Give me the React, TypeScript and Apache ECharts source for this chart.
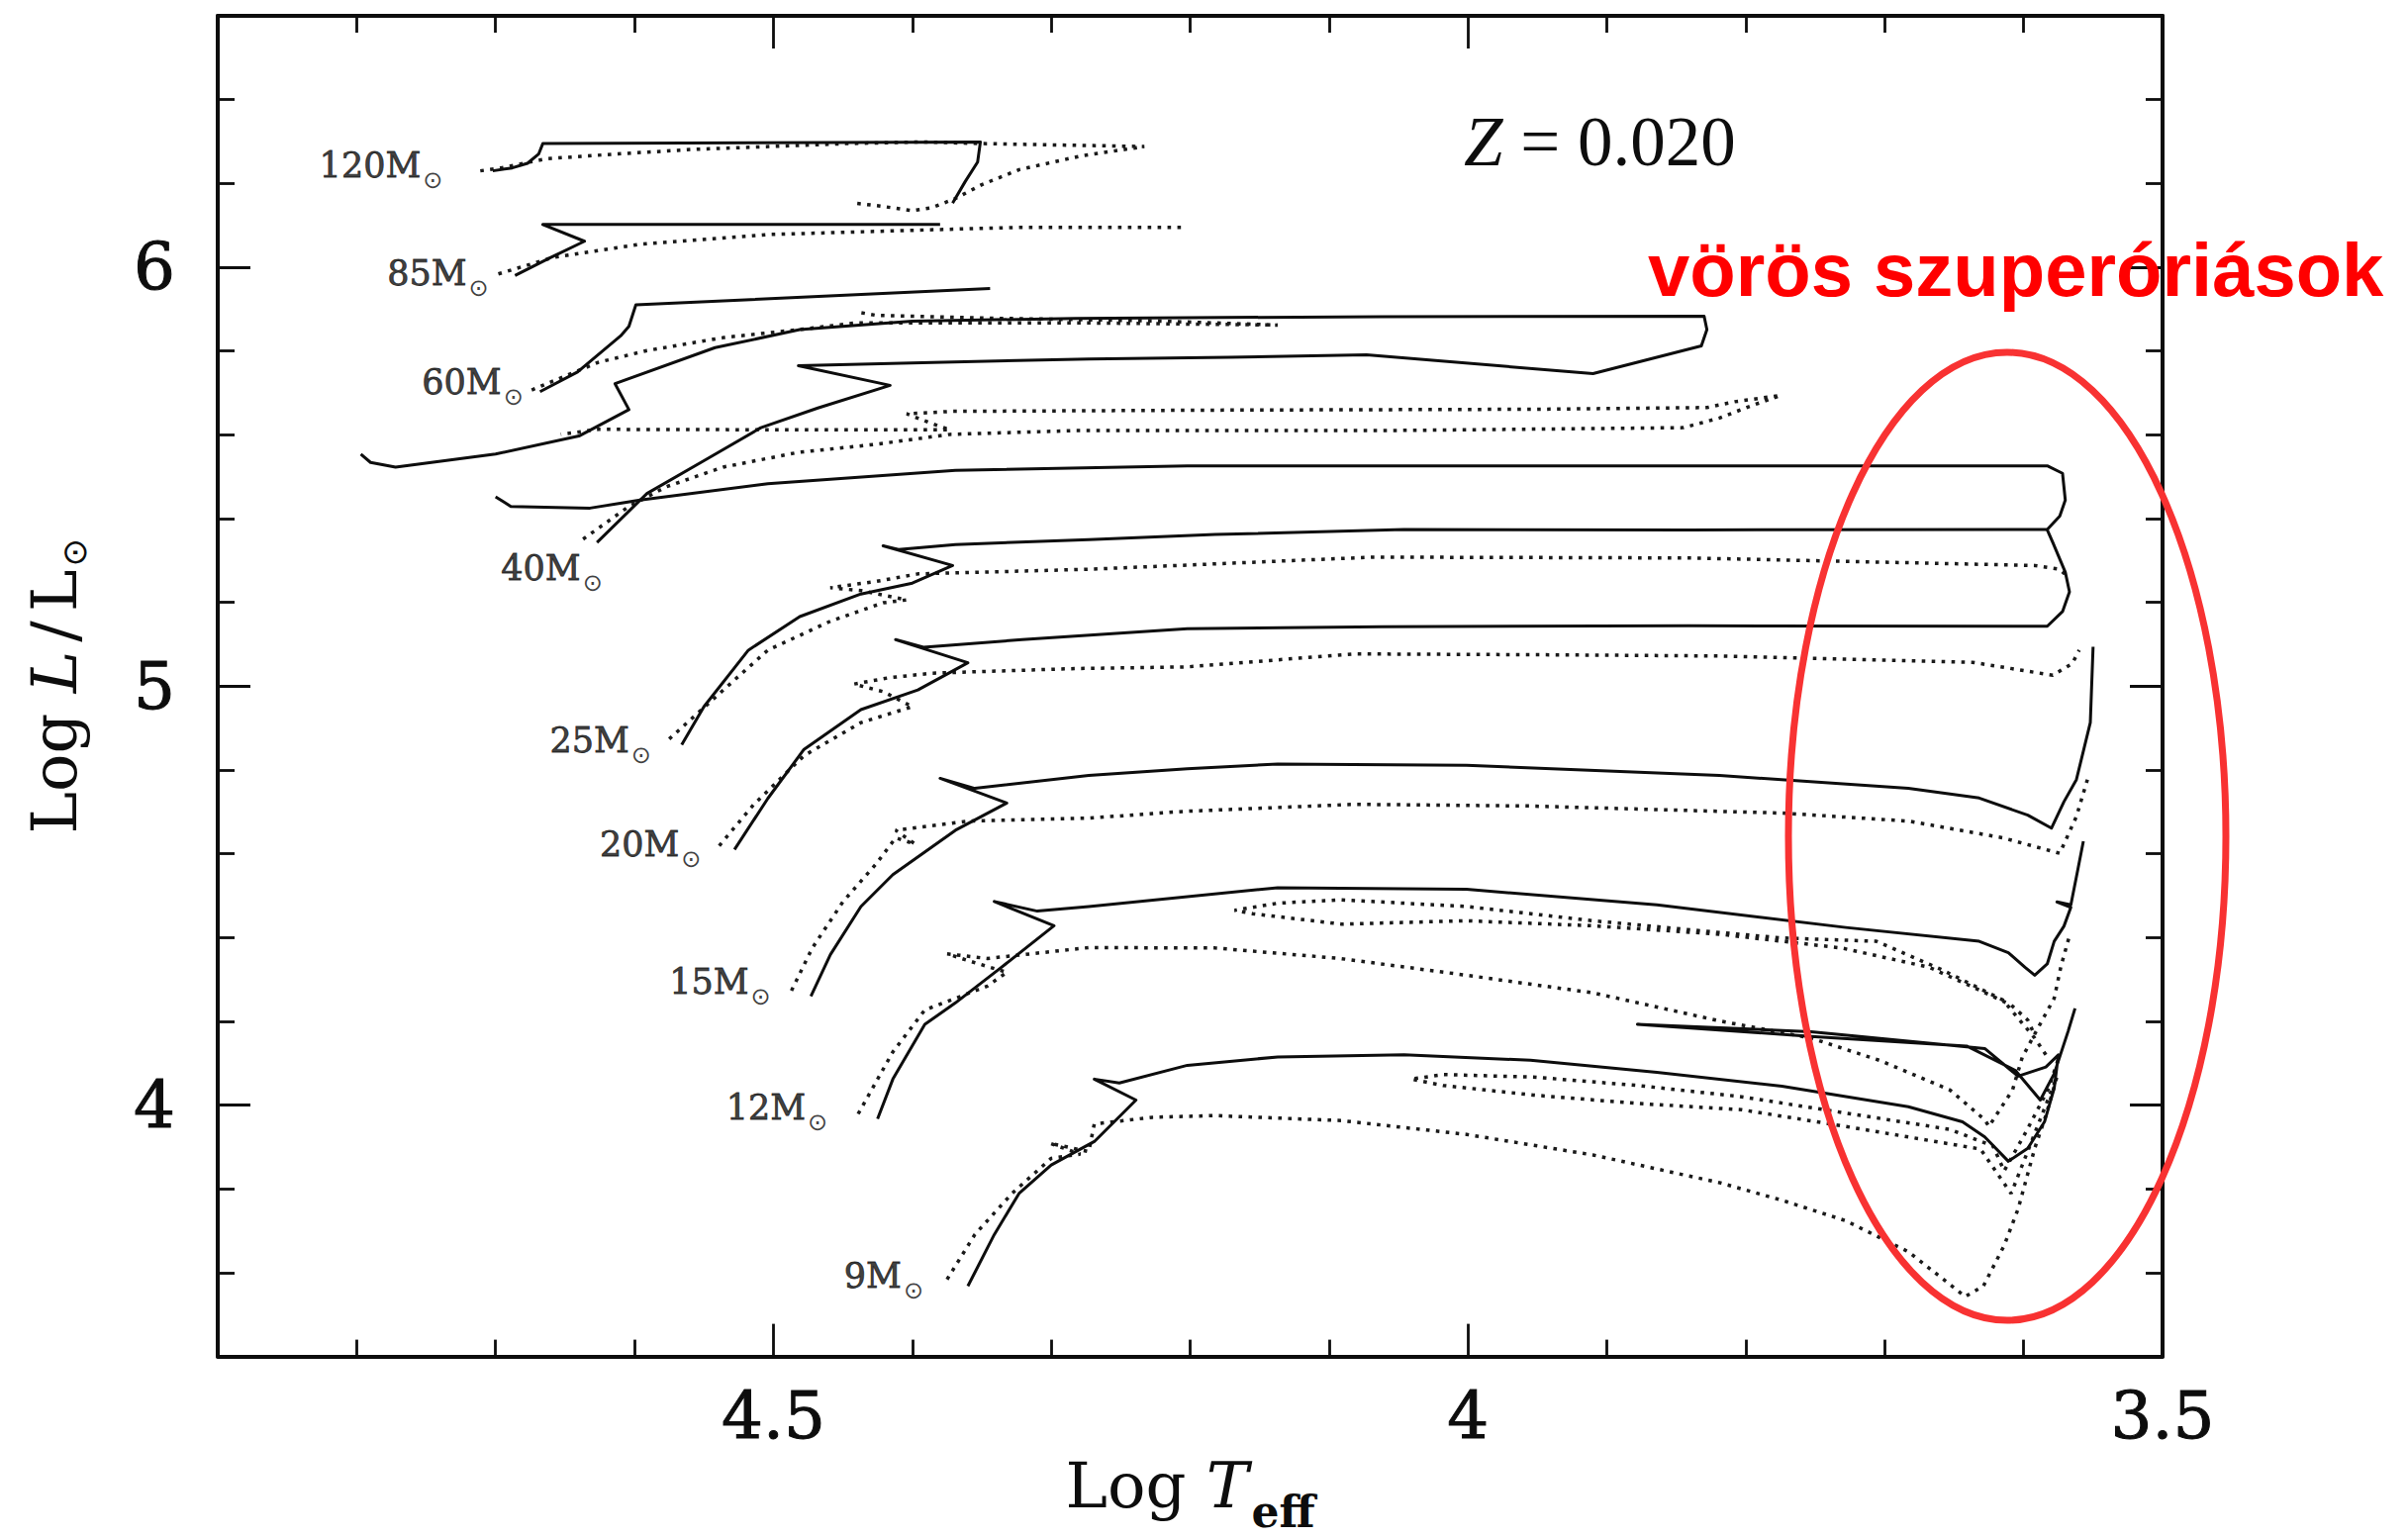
import React, { useEffect, useRef } from "react";
import * as echarts from "echarts";

type Pt = [number, number];

// Axis ticks and labels (log Teff on x, log L/Lsun on y)
const xMinorTicks = [3.6, 3.7, 3.8, 3.9, 4.1, 4.2, 4.3, 4.4, 4.6, 4.7, 4.8];
const xMajorTicks = [4.0, 4.5];
const xTickLabels = [3.5, 4.0, 4.5];
const yMinorTicks = [3.6, 3.8, 4.2, 4.4, 4.6, 4.8, 5.2, 5.4, 5.6, 5.8, 6.2, 6.4];
const yMajorTicks = [4, 5, 6];
const yTickLabels = [4, 5, 6];

// Evolutionary tracks, [log Teff, log L/Lsun]
const m120Solid: Pt[] = [[4.702, 6.23], [4.688, 6.237], [4.677, 6.248], [4.669, 6.27], [4.666, 6.295], [4.351, 6.299], [4.353, 6.251], [4.362, 6.204], [4.371, 6.153]];
const m120Dotted: Pt[] = [[4.711, 6.23], [4.696, 6.237], [4.68, 6.248], [4.663, 6.259], [4.614, 6.27], [4.559, 6.281], [4.503, 6.288], [4.448, 6.295], [4.393, 6.299], [4.349, 6.295], [4.283, 6.291], [4.233, 6.288], [4.278, 6.266], [4.323, 6.233], [4.35, 6.197], [4.369, 6.164], [4.386, 6.142], [4.4, 6.135], [4.423, 6.146], [4.442, 6.153]];

const m85Solid: Pt[] = [[4.686, 5.98], [4.661, 6.022], [4.636, 6.062], [4.666, 6.102], [4.38, 6.102]];
const m85Dotted: Pt[] = [[4.698, 5.984], [4.659, 6.023], [4.596, 6.055], [4.504, 6.078], [4.38, 6.09], [4.323, 6.095], [4.205, 6.095]];

const m60Solid: Pt[] = [[4.668, 5.703], [4.641, 5.75], [4.61, 5.836], [4.604, 5.859], [4.599, 5.91], [4.344, 5.949]];
const m60Dotted: Pt[] = [[4.674, 5.707], [4.626, 5.773], [4.591, 5.801], [4.536, 5.832], [4.482, 5.851], [4.441, 5.867], [4.4, 5.867], [4.273, 5.867], [4.137, 5.862], [4.227, 5.872], [4.338, 5.878], [4.426, 5.885], [4.441, 5.894]];

const m40Solid: Pt[] = [[4.627, 5.343], [4.591, 5.46], [4.55, 5.538], [4.509, 5.617], [4.468, 5.664], [4.416, 5.718], [4.482, 5.765], [4.393, 5.772], [4.273, 5.781], [4.172, 5.785], [4.073, 5.791], [3.91, 5.746], [3.832, 5.812], [3.828, 5.851], [3.83, 5.883], [4.062, 5.882], [4.283, 5.878], [4.4, 5.871], [4.481, 5.851], [4.542, 5.808], [4.614, 5.722], [4.604, 5.66], [4.64, 5.597], [4.7, 5.554], [4.772, 5.523], [4.79, 5.534], [4.797, 5.554]];
const m40Dotted: Pt[] = [[4.637, 5.351], [4.604, 5.429], [4.577, 5.476], [4.536, 5.523], [4.482, 5.558], [4.427, 5.577], [4.373, 5.601], [4.283, 5.61], [4.062, 5.61], [3.845, 5.617], [3.819, 5.64], [3.797, 5.668], [3.775, 5.694], [3.808, 5.679], [3.828, 5.665], [3.951, 5.661], [4.172, 5.659], [4.371, 5.656], [4.404, 5.65], [4.387, 5.628], [4.373, 5.612], [4.503, 5.612], [4.626, 5.613], [4.653, 5.601]];

const m25Solid: Pt[] = [[4.566, 4.86], [4.55, 4.951], [4.518, 5.086], [4.481, 5.166], [4.437, 5.22], [4.4, 5.246], [4.371, 5.288], [4.421, 5.335], [4.41, 5.326], [4.369, 5.338], [4.273, 5.35], [4.182, 5.362], [4.046, 5.374], [3.841, 5.373], [3.583, 5.374], [3.574, 5.406], [3.57, 5.444], [3.572, 5.508], [3.583, 5.526], [3.841, 5.526], [4.202, 5.526], [4.369, 5.515], [4.504, 5.483], [4.596, 5.444], [4.632, 5.425], [4.689, 5.429], [4.7, 5.452]];
const m25Dotted: Pt[] = [[4.575, 4.874], [4.536, 4.991], [4.504, 5.086], [4.459, 5.155], [4.421, 5.199], [4.404, 5.206], [4.437, 5.228], [4.459, 5.235], [4.426, 5.25], [4.396, 5.268], [4.273, 5.279], [4.068, 5.308], [3.841, 5.306], [3.592, 5.288], [3.574, 5.279], [3.567, 5.257]];

const m20Solid: Pt[] = [[4.528, 4.61], [4.504, 4.732], [4.478, 4.849], [4.437, 4.944], [4.396, 4.991], [4.36, 5.056], [4.412, 5.111], [4.392, 5.093], [4.321, 5.111], [4.202, 5.137], [4.062, 5.142], [3.841, 5.144], [3.583, 5.143], [3.572, 5.178], [3.567, 5.225], [3.57, 5.272], [3.579, 5.343], [3.583, 5.373]];
const m20Dotted: Pt[] = [[4.539, 4.619], [4.514, 4.718], [4.478, 4.834], [4.437, 4.913], [4.4, 4.951], [4.421, 4.987], [4.442, 5.005], [4.417, 5.02], [4.386, 5.031], [4.283, 5.042], [4.202, 5.046], [4.082, 5.077], [3.951, 5.075], [3.819, 5.072], [3.637, 5.057], [3.579, 5.026], [3.565, 5.054], [3.56, 5.086]];

const m15Solid: Pt[] = [[4.473, 4.26], [4.459, 4.359], [4.437, 4.474], [4.414, 4.55], [4.369, 4.656], [4.332, 4.721], [4.38, 4.78], [4.355, 4.756], [4.273, 4.787], [4.202, 4.803], [4.137, 4.814], [4.001, 4.811], [3.819, 4.787], [3.683, 4.756], [3.632, 4.733], [3.597, 4.692], [3.58, 4.661], [3.571, 4.724], [3.562, 4.777], [3.552, 4.913], [3.55, 5.094]];
const m15Dotted: Pt[] = [[4.487, 4.273], [4.472, 4.375], [4.45, 4.485], [4.426, 4.576], [4.412, 4.638], [4.398, 4.623], [4.412, 4.656], [4.36, 4.678], [4.273, 4.685], [4.205, 4.701], [4.082, 4.718], [3.956, 4.714], [3.774, 4.697], [3.683, 4.678], [3.615, 4.638], [3.574, 4.601], [3.562, 4.689], [3.554, 4.778]];

const m12Solid: Pt[] = [[4.425, 3.967], [4.414, 4.062], [4.391, 4.193], [4.369, 4.244], [4.337, 4.326], [4.298, 4.428], [4.341, 4.486], [4.31, 4.463], [4.273, 4.474], [4.137, 4.519], [4.001, 4.515], [3.864, 4.478], [3.728, 4.424], [3.632, 4.391], [3.611, 4.364], [3.599, 4.329], [3.592, 4.31], [3.583, 4.337], [3.578, 4.391], [3.571, 4.427], [3.566, 4.472], [3.576, 4.485], [3.566, 4.478], [3.561, 4.562], [3.557, 4.63]];
const m12Dotted: Pt[] = [[4.439, 3.979], [4.414, 4.127], [4.391, 4.227], [4.346, 4.284], [4.332, 4.317], [4.354, 4.339], [4.375, 4.361], [4.346, 4.35], [4.273, 4.376], [4.182, 4.375], [4.092, 4.35], [4.001, 4.31], [3.91, 4.268], [3.819, 4.201], [3.753, 4.16], [3.703, 4.106], [3.653, 4.036], [3.628, 3.965], [3.625, 3.949], [3.608, 4.036], [3.601, 4.114], [3.591, 4.176], [3.578, 4.255], [3.573, 4.333], [3.567, 4.404]];
const m12DottedLoop: Pt[] = [[3.584, 4.12], [3.592, 4.16], [3.615, 4.251], [3.66, 4.325], [3.706, 4.391], [3.774, 4.399], [3.819, 4.412], [3.91, 4.44], [4.001, 4.474], [4.091, 4.49], [4.137, 4.482], [4.168, 4.465], [4.155, 4.457], [4.091, 4.432], [4.001, 4.44], [3.91, 4.428], [3.819, 4.408], [3.731, 4.375], [3.668, 4.329], [3.632, 4.275], [3.609, 4.239], [3.597, 4.203], [3.592, 4.167]];

const m9Solid: Pt[] = [[4.36, 3.568], [4.341, 3.691], [4.323, 3.79], [4.3, 3.857], [4.269, 3.913], [4.239, 4.012], [4.269, 4.062], [4.251, 4.053], [4.202, 4.095], [4.137, 4.115], [4.046, 4.12], [3.955, 4.107], [3.864, 4.078], [3.774, 4.045], [3.683, 3.996], [3.644, 3.96], [3.628, 3.924], [3.611, 3.866], [3.597, 3.897], [3.585, 3.96], [3.578, 4.04], [3.575, 4.12], [3.584, 4.091], [3.604, 4.069], [3.628, 4.135], [3.753, 4.175], [3.878, 4.193], [3.753, 4.164], [3.641, 4.141], [3.606, 4.083], [3.588, 4.012], [3.578, 4.075], [3.568, 4.176], [3.563, 4.231]];
const m9Dotted: Pt[] = [[4.375, 3.584], [4.355, 3.691], [4.328, 3.79], [4.3, 3.873], [4.279, 3.883], [4.301, 3.909], [4.273, 3.889], [4.269, 3.955], [4.227, 3.971], [4.182, 3.975], [4.091, 3.963], [4.001, 3.93], [3.91, 3.881], [3.819, 3.815], [3.774, 3.773], [3.728, 3.724], [3.683, 3.65], [3.642, 3.543], [3.629, 3.568], [3.614, 3.665], [3.604, 3.752], [3.592, 3.897], [3.584, 3.975], [3.576, 4.068], [3.609, 3.789], [3.631, 3.895], [3.728, 3.949], [3.803, 3.989], [3.878, 4.004], [3.953, 4.024], [4.018, 4.047], [4.041, 4.062], [4.018, 4.073], [3.953, 4.067], [3.878, 4.047], [3.803, 4.02], [3.728, 3.981], [3.653, 3.942], [3.622, 3.902], [3.614, 3.843], [3.598, 3.938], [3.582, 4.04], [3.574, 4.12]];

// Initial-mass labels, anchored at their right edge
const massNames = ["120", "85", "60", "40", "25", "20", "15", "12", "9"];
const massLabelLogT = [4.738, 4.705, 4.68, 4.623, 4.588, 4.552, 4.502, 4.461, 4.392];
const massLabelLogL = [6.244, 5.986, 5.727, 5.282, 4.871, 4.623, 4.295, 3.994, 3.592];

const solidTracks: Pt[][] = [m120Solid, m85Solid, m60Solid, m40Solid, m25Solid, m20Solid, m15Solid, m12Solid, m9Solid];
const dottedTracks: Pt[][] = [m120Dotted, m85Dotted, m60Dotted, m40Dotted, m25Dotted, m20Dotted, m15Dotted, m12Dotted, m12DottedLoop, m9Dotted];

const INK = "#0d0d0d";
const SERIF = "'DejaVu Serif', 'Liberation Serif', serif";
const TIMES = "'Liberation Serif', serif";
const SUN = "'DejaVu Sans', sans-serif";

function makeAxes(dim: "x" | "y") {
  const isX = dim === "x";
  const common: any = {
    type: "value",
    min: isX ? 3.5 : 3.4,
    max: isX ? 4.9 : 6.6,
    inverse: isX,
    splitLine: { show: false },
    axisPointer: { show: false },
  };
  const minor = isX ? xMinorTicks : yMinorTicks;
  const major = isX ? xMajorTicks : yMajorTicks;
  const near = isX ? "bottom" : "left";
  const far = isX ? "top" : "right";
  const line = { show: true, onZero: false, lineStyle: { color: INK, width: 4 } };
  const tick = (vals: number[], len: number) => ({
    show: true,
    inside: true,
    length: len,
    customValues: vals,
    lineStyle: { color: INK, width: 2.8 },
  });
  const main: any = {
    ...common,
    position: near,
    axisLine: line,
    axisTick: tick(minor, 17),
    axisLabel: {
      show: true,
      customValues: isX ? xTickLabels : yTickLabels,
      showMinLabel: true,
      showMaxLabel: true,
      margin: isX ? 27 : 43,
      fontFamily: SERIF,
      fontSize: 66,
      color: INK,
      textBorderColor: INK,
      textBorderWidth: 1,
      formatter: (v: number) => String(v),
    },
    nameLocation: "middle",
  };
  if (isX) {
    main.name = "{a|Log }{i|T}{s|eff}";
    main.nameGap = 70;
    main.nameTextStyle = {
      rich: {
        a: { fontFamily: SERIF, fontSize: 64, color: INK },
        i: { fontFamily: SERIF, fontSize: 64, fontStyle: "italic", color: INK },
        s: { fontFamily: SERIF, fontSize: 44, color: INK, fontWeight: "bold", padding: [52, 0, 0, 3] },
      },
    };
  } else {
    main.name = "{a|Log }{i|L}{d|/}{a|L}{s|⊙}";
    main.nameGap = 128;
    main.nameRotate = 90;
    main.nameTextStyle = {
      rich: {
        a: { fontFamily: SERIF, fontSize: 64, color: INK },
        d: { fontFamily: SERIF, fontSize: 64, color: INK, padding: [0, 9, 0, 9] },
        i: { fontFamily: SERIF, fontSize: 64, fontStyle: "italic", color: INK },
        s: { fontFamily: SUN, fontSize: 34, color: INK, padding: [40, 0, 0, 3] },
      },
    };
  }
  const hidden = { show: false };
  return [
    main,
    { ...common, position: near, axisLine: { show: false }, axisTick: tick(major, 33), axisLabel: hidden },
    { ...common, position: far, axisLine: line, axisTick: tick(minor, 17), axisLabel: hidden },
    { ...common, position: far, axisLine: { show: false }, axisTick: tick(major, 33), axisLabel: hidden },
  ];
}

export default function App() {
  const ref = useRef<HTMLDivElement>(null);

  useEffect(() => {
    if (!ref.current) return;
    const chart = echarts.init(ref.current, null, { renderer: "svg" });

    const series: any[] = [];
    solidTracks.forEach((track) => {
      series.push({
        type: "line",
        data: track,
        showSymbol: false,
        symbol: "none",
        silent: true,
        lineStyle: { color: INK, width: 3, type: "solid", join: "round" },
        z: 3,
      });
    });
    dottedTracks.forEach((track) => {
      series.push({
        type: "line",
        data: track,
        showSymbol: false,
        symbol: "none",
        silent: true,
        lineStyle: { color: "#1a1a1a", width: 3.5, type: [3.6, 6.4], cap: "butt" },
        z: 2,
      });
    });
    series.push({
      type: "scatter",
      silent: true,
      symbolSize: 0,
      itemStyle: { color: "transparent" },
      data: massNames.map((m, i) => ({ name: m, value: [massLabelLogT[i], massLabelLogL[i]] })),
      label: {
        show: true,
        position: "left",
        distance: 0,
        formatter: (p: any) => `{a|${p.name}M}{b|⊙}`,
        rich: {
          a: { fontFamily: SERIF, fontSize: 35, color: INK, textBorderColor: INK, textBorderWidth: 0.8 },
          b: { fontFamily: SUN, fontSize: 24, color: INK, padding: [30, 0, 0, 2] },
        },
      },
      z: 4,
    });

    chart.setOption({
      animation: false,
      backgroundColor: "#ffffff",
      grid: { left: 220, right: 248, top: 16, bottom: 179, containLabel: false },
      xAxis: makeAxes("x"),
      yAxis: makeAxes("y"),
      series,
      graphic: [
        {
          type: "text",
          x: 1479,
          y: 143,
          z: 50,
          style: {
            text: "{i|Z}{n| = 0.020}",
            align: "left",
            verticalAlign: "middle",
            rich: {
              i: { fontFamily: TIMES, fontSize: 71, fontStyle: "italic", fill: INK },
              n: { fontFamily: TIMES, fontSize: 71, fill: INK },
            },
          },
        },
        {
          type: "text",
          x: 1665,
          y: 272,
          z: 50,
          style: {
            text: "vörös szuperóriások",
            fontFamily: "'Liberation Sans', Arial, sans-serif",
            fontWeight: "bold",
            fontSize: 76,
            fill: "#ff0000",
            align: "left",
            verticalAlign: "middle",
          },
        },
        {
          type: "ellipse",
          z: 60,
          shape: { cx: 2028, cy: 845, rx: 221, ry: 489 },
          style: { fill: "none", stroke: "#f83232", lineWidth: 7 },
        },
      ],
    });

    return () => chart.dispose();
  }, []);

  return (
    <div
      ref={ref}
      style={{ position: "fixed", left: 0, top: 0, width: 2433, height: 1554, background: "#fff" }}
    />
  );
}
